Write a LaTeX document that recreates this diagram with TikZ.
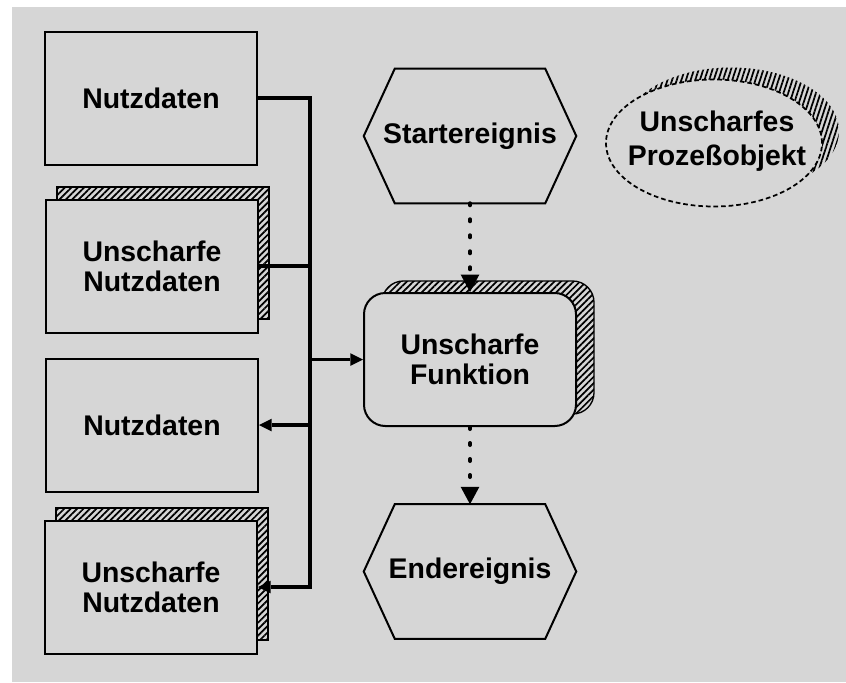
\documentclass[tikz,border=0pt]{standalone}
\usepackage{fontspec}
\setmainfont{Liberation Sans}
\usetikzlibrary{arrows.meta,calc,patterns.meta,shapes.geometric}
\definecolor{paper}{RGB}{214,214,214}
\begin{document}
\begin{tikzpicture}[x=0.75pt,y=-0.75pt,
  lbl/.style={font=\bfseries\fontsize{21.3}{22.5}\selectfont, align=center, text=black},
  databox/.style={draw=black, line width=1.5pt, fill=paper, minimum width=159pt, minimum height=99.75pt, inner sep=0pt},
  hatchshadow/.style={draw=black, line width=1pt, pattern={Lines[angle=45,distance=3.4pt,line width=1.3pt]}, pattern color=black},
  outline/.style={draw=black, line width=1.5pt, line join=miter},
  wire/.style={line width=2.8pt},
  thinwire/.style={line width=2.4pt},
  tip/.style={-{Triangle[length=9.5pt,width=9.5pt,line width=0pt]}},
  flow/.style={line width=3pt, line cap=round, dash pattern=on 1.5pt off 10.5pt,
    -{Triangle[length=13pt,width=14pt,line width=0pt]}},
]
% page and grey sheet
\useasboundingbox (0,0) rectangle (846,682);
\fill[white] (0,0) rectangle (846,682);
\fill[paper] (12,7) rectangle (846,682);

% data objects on the left
\node[databox, lbl] (n1) at (151,98) {Nutzdaten};
\node[hatchshadow, minimum width=159pt, minimum height=99pt, inner sep=0pt] (s2) at (163,253) {};
\node[databox, lbl] (n2) at (152,266) {Unscharfe\\Nutzdaten};
\node[databox, lbl] (n3) at (152,425) {Nutzdaten};
\node[hatchshadow, minimum width=159pt, minimum height=99pt, inner sep=0pt] (s4) at (162,574) {};
\node[databox, lbl] (n4) at (151,587) {Unscharfe\\Nutzdaten};

% events (hexagons) and the function
\node[lbl, minimum width=159pt, minimum height=100.5pt, inner sep=0pt] (start) at (470,136) {Startereignis};
\draw[outline] (start.west) -- ($(start.north west)+(31,0)$) -- ($(start.north east)+(-31,0)$)
  -- (start.east) -- ($(start.south east)+(-31,0)$) -- ($(start.south west)+(31,0)$) -- cycle;

\node[hatchshadow, rounded corners=16pt, minimum width=159pt, minimum height=99.75pt, inner sep=0pt] (fs) at (488,347.5) {};
\node[databox, lbl, rounded corners=16pt] (f) at (470,359.5) {Unscharfe\\Funktion};

\node[lbl, minimum width=159pt, minimum height=100.5pt, inner sep=0pt] (stop) at (470,571.5) {Endereignis};
\draw[outline] (stop.west) -- ($(stop.north west)+(31,0)$) -- ($(stop.north east)+(-31,0)$)
  -- (stop.east) -- ($(stop.south east)+(-31,0)$) -- ($(stop.south west)+(31,0)$) -- cycle;

% fuzzy process object
\node[ellipse, inner sep=0pt, minimum width=162pt, minimum height=95.25pt,
  pattern={Lines[angle=72,distance=3.3pt,line width=1.3pt]}, pattern color=black] (objs) at (731,131) {};
\node[ellipse, inner sep=0pt, minimum width=162pt, minimum height=95.25pt, fill=paper,
  draw=black, line width=1.3pt, dash pattern=on 3.5pt off 2.2pt] (obj) at (714,143) {};
\node[lbl, font=\bfseries\fontsize{21.3}{25.5}\selectfont] (objtxt) at (717,141) {Unscharfes\\Prozeßobjekt};

% connectors
\coordinate (jtop) at (310,98);
\coordinate (jbot) at (310,587);
\draw[wire, tip] (n1.east) -- (jtop) -- (jbot) -- (n4.east);
\draw[thinwire] (n2.east) -- (n2.east -| jtop);
\draw[wire, tip] (jtop |- f.west) -- (f.west);
\draw[wire, tip] (jtop |- n3.east) -- (n3.east);

\draw[flow] (start.south) -- (f.north);
\draw[flow] (f.south) -- (stop.north);
\end{tikzpicture}
\end{document}
